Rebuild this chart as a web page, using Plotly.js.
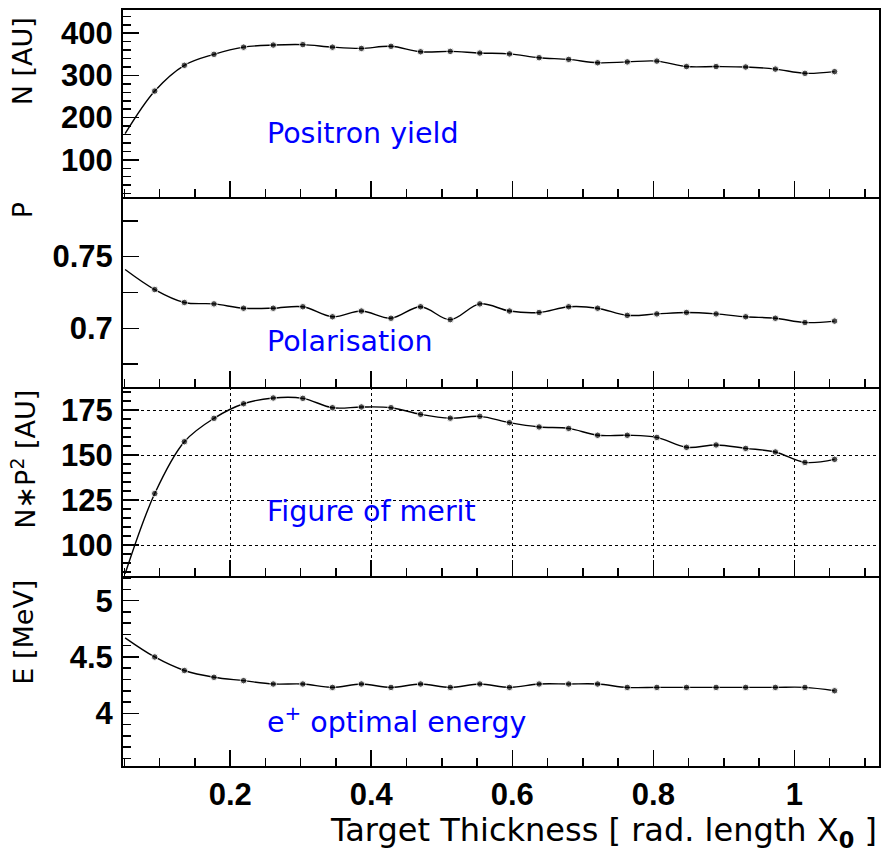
<!DOCTYPE html>
<html>
<head>
<meta charset="utf-8">
<script src="https://cdn.plot.ly/plotly-3.0.1.min.js"></script>
<style>html,body{margin:0;padding:0;background:#fff;}#chart{width:881px;height:852px;}</style>
</head>
<body>
<div id="chart"></div>
<script>
// Target thickness [X0]
const thickness = [0.051, 0.093, 0.135, 0.177, 0.219, 0.261, 0.303, 0.345, 0.386, 0.428, 0.470, 0.512, 0.554,
                   0.596, 0.638, 0.680, 0.721, 0.763, 0.805, 0.847, 0.889, 0.931, 0.973, 1.015, 1.057];
// Positron yield N [AU]
const yieldN = [162, 263, 324, 350, 367, 372, 373, 367, 364, 369, 356, 357, 353,
                351, 342, 338, 330, 332, 334, 321, 321, 320, 315, 305, 309];
// Polarisation P
const polar = [0.741, 0.727, 0.718, 0.717, 0.714, 0.714, 0.715, 0.708, 0.712, 0.707, 0.715, 0.706, 0.717,
               0.712, 0.711, 0.715, 0.714, 0.709, 0.710, 0.711, 0.710, 0.708, 0.707, 0.704, 0.705];
// Figure of merit N*P^2 [AU]
const merit = [84, 128.6, 157.4, 170.4, 178.5, 181.7, 181.5, 176.3, 176.7, 176.3, 172.6, 170.5, 171.5,
               168, 165.6, 164.8, 161, 161, 159.8, 154.3, 155.6, 153.7, 151.7, 145.9, 147.6];
// e+ optimal energy [MeV]
const energy = [4.67, 4.50, 4.38, 4.32, 4.29, 4.26, 4.26, 4.23, 4.26, 4.23, 4.26, 4.23, 4.26,
                4.23, 4.26, 4.26, 4.26, 4.23, 4.23, 4.23, 4.23, 4.23, 4.23, 4.23, 4.20];

const panelTitles = ['N [AU]', 'P', 'N\u2217P<sup>2</sup> [AU]', 'E [MeV]'];
const panelLabels = ['Positron yield', 'Polarisation', 'Figure of merit', 'e<sup>+</sup> optimal energy'];
const xTitle = 'Target Thickness [ rad. length X<sub><b>0</b></sub> ]';

const sizes = thickness.map((v, i) => i === 0 ? 0 : 6.5);
function tr(y, xa, ya) {
  return {x: thickness, y: y, xaxis: xa, yaxis: ya, type: 'scatter', mode: 'lines+markers',
    line: {color: '#000', width: 1.4, shape: 'spline', smoothing: 1},
    marker: {color: '#000', size: sizes}, cliponaxis: true, hoverinfo: 'skip'};
}
const data = [tr(energy, 'x', 'y'), tr(merit, 'x2', 'y2'), tr(polar, 'x3', 'y3'), tr(yieldN, 'x4', 'y4')];

const tickFont = {family: 'Liberation Sans, Arial, sans-serif', size: 31, color: '#000', weight: 'bold'};
const txtFont = 'DejaVu Sans, Noto Sans, sans-serif';
function xax(anchor, labels, grid, mirror) {
  return {anchor: anchor, domain: [0, 1], range: [0.048, 1.12], tick0: 0, dtick: 0.2,
    ticks: 'inside', ticklen: 16, tickwidth: 1.5, tickcolor: '#000',
    minor: {dtick: 0.05, ticks: 'inside', ticklen: 8, tickwidth: 1.5, tickcolor: '#000', showgrid: false},
    showline: true, linewidth: 2, linecolor: '#000', mirror: !!mirror, zeroline: false,
    showgrid: !!grid, gridcolor: '#000', griddash: 'dot', gridwidth: 1,
    showticklabels: labels, tickfont: tickFont, ticklabelstandoff: 0};
}
function yax(anchor, dom, range, tick0, dtick, mdtick, mlen, grid) {
  return {anchor: anchor, domain: dom, range: range, tick0: tick0, dtick: dtick,
    ticks: 'inside', ticklen: 16, tickwidth: 1.5, tickcolor: '#000',
    minor: {dtick: mdtick, tick0: tick0, ticks: 'inside', ticklen: mlen, tickwidth: 1.5, tickcolor: '#000', showgrid: false},
    showline: true, linewidth: 2, linecolor: '#000', mirror: true, zeroline: false,
    showgrid: !!grid, gridcolor: '#000', griddash: 'dot', gridwidth: 1,
    tickfont: tickFont, ticklabelstandoff: 2};
}
const d1 = 190/756, d2 = 379/756, d3 = 569/756;
const layout = {
  width: 881, height: 852, margin: {l: 123, r: 2, t: 10, b: 86},
  paper_bgcolor: '#fff', plot_bgcolor: '#fff', showlegend: false,
  xaxis: xax('y', true), xaxis2: Object.assign(xax('y2', false, true), {matches: 'x'}),
  xaxis3: Object.assign(xax('y3', false), {matches: 'x'}), xaxis4: Object.assign(xax('y4', false, false, true), {matches: 'x'}),
  yaxis: yax('x', [0, d1], [3.532, 5.219], 4, 0.5, 0.1, 8),
  yaxis2: yax('x2', [d1, d2], [82.8, 187.8], 100, 25, 5, 8, true),
  yaxis3: yax('x3', [d2, d3], [0.659, 0.7916], 0.7, 0.05, 0.025, 15),
  yaxis4: yax('x4', [d3, 1], [12, 455], 0, 100, 20, 8),
  annotations: []
};
const titleTops = [0.9934, 0.7487, 0.5, 0.2487];
panelTitles.forEach((t, i) => layout.annotations.push({text: t, xref: 'paper', yref: 'paper', x: -0.132, y: titleTops[i],
  xanchor: 'center', yanchor: 'top', textangle: -90, showarrow: false, font: {family: txtFont, size: 27, color: '#000'}}));
const labelY = [0.836, 0.561, 0.336, 0.0608];
panelLabels.forEach((t, i) => layout.annotations.push({text: t, xref: 'paper', yref: 'paper', x: 0.188, y: labelY[i],
  xanchor: 'left', yanchor: 'middle', showarrow: false, font: {family: txtFont, size: 28.5, color: '#0000ff'}}));
layout.annotations.push({text: xTitle, xref: 'paper', yref: 'paper', x: 1, y: -0.0875, xanchor: 'right', yanchor: 'middle',
  showarrow: false, font: {family: txtFont, size: 32, color: '#000'}});
Plotly.newPlot('chart', data, layout, {staticPlot: true, displayModeBar: false});
</script>
</body>
</html>
